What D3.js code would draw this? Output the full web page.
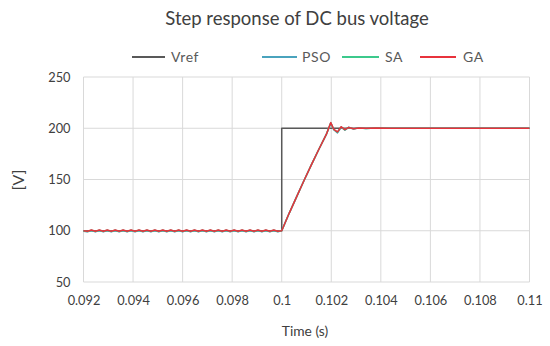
<!DOCTYPE html>
<html>
<head>
<meta charset="utf-8">
<script src="https://cdn.jsdelivr.net/npm/d3@7"></script>
<style>
  body { margin: 0; background: #fff; }
  svg text { font-family: Lato, "Open Sans", sans-serif; }
</style>
</head>
<body>
<svg id="chart" width="550" height="346"></svg>
<script>
// x ticks and y ticks
const xTicks = [0.092, 0.094, 0.096, 0.098, 0.1, 0.102, 0.104, 0.106, 0.108, 0.11];
const xTickLabels = ['0.092', '0.094', '0.096', '0.098', '0.1', '0.102', '0.104', '0.106', '0.108', '0.11'];
const yTicks = [50, 100, 150, 200, 250];

// reference voltage
const vrefTime = [0.092, 0.1, 0.1, 0.11];
const vrefValues = [100, 100, 200, 200];

// time points before the step (ripple)
const preTime = [
  0.09200, 0.09216, 0.09232, 0.09248, 0.09264, 0.09280, 0.09296, 0.09312, 0.09328, 0.09344,
  0.09360, 0.09376, 0.09392, 0.09408, 0.09424, 0.09440, 0.09456, 0.09472, 0.09488, 0.09504,
  0.09520, 0.09536, 0.09552, 0.09568, 0.09584, 0.09600, 0.09616, 0.09632, 0.09648, 0.09664,
  0.09680, 0.09696, 0.09712, 0.09728, 0.09744, 0.09760, 0.09776, 0.09792, 0.09808, 0.09824,
  0.09840, 0.09856, 0.09872, 0.09888, 0.09904, 0.09920, 0.09936, 0.09952, 0.09968, 0.09984,
  0.10000
];
// time points after the step
const postTime = [
  0.1003, 0.1006, 0.1009, 0.1012, 0.1015, 0.1018, 0.10198, 0.1021, 0.10225, 0.1024,
  0.10255, 0.1027, 0.1029, 0.1031, 0.1034, 0.1038, 0.1044, 0.105, 0.1058, 0.1066,
  0.1074, 0.1082, 0.109, 0.1098, 0.11
];

const psoPre = [
  99.6, 99.0, 100.2, 99.0, 100.2, 99.0, 100.2, 99.0, 100.2, 99.0,
  100.2, 99.0, 100.2, 99.0, 100.2, 99.0, 100.2, 99.0, 100.2, 99.0,
  100.2, 99.0, 100.2, 99.0, 100.2, 99.0, 100.2, 99.0, 100.2, 99.0,
  100.2, 99.0, 100.2, 99.0, 100.2, 99.0, 100.2, 99.0, 100.2, 99.0,
  100.2, 99.0, 100.2, 99.0, 100.2, 99.0, 100.2, 99.0, 100.2, 99.0,
  100
];
const psoPost = [
  117, 133, 149, 164.5, 179.5, 194, 205, 198.5, 195.5, 201,
  198.2, 200.9, 199.3, 200.4, 199.8, 200.2, 199.9, 200.1, 199.9, 200.1,
  199.9, 200.1, 199.9, 200.1, 200
];

const saPre = [
  99.8, 99.2, 100.4, 99.2, 100.4, 99.2, 100.4, 99.2, 100.4, 99.2,
  100.4, 99.2, 100.4, 99.2, 100.4, 99.2, 100.4, 99.2, 100.4, 99.2,
  100.4, 99.2, 100.4, 99.2, 100.4, 99.2, 100.4, 99.2, 100.4, 99.2,
  100.4, 99.2, 100.4, 99.2, 100.4, 99.2, 100.4, 99.2, 100.4, 99.2,
  100.4, 99.2, 100.4, 99.2, 100.4, 99.2, 100.4, 99.2, 100.4, 99.2,
  100
];
const saPost = [
  117, 133, 149, 164.5, 179.5, 194, 205.3, 198.8, 196, 201.3,
  198.4, 200.8, 199.4, 200.3, 199.8, 200.2, 199.9, 200.1, 199.9, 200.1,
  199.9, 200.1, 199.9, 200.1, 200
];

const gaPre = [
  100.1, 99.5, 100.8, 99.5, 100.8, 99.5, 100.8, 99.5, 100.8, 99.5,
  100.8, 99.5, 100.8, 99.5, 100.8, 99.5, 100.8, 99.5, 100.8, 99.5,
  100.8, 99.5, 100.8, 99.5, 100.8, 99.5, 100.8, 99.5, 100.8, 99.5,
  100.8, 99.5, 100.8, 99.5, 100.8, 99.5, 100.8, 99.5, 100.8, 99.5,
  100.8, 99.5, 100.8, 99.5, 100.8, 99.5, 100.8, 99.5, 100.8, 99.5,
  100
];
const gaPost = [
  117, 133, 149, 164.5, 179.5, 194, 205.5, 199, 196.5, 201.5,
  198.6, 200.8, 199.6, 200.3, 199.9, 200.2, 199.9, 200.1, 199.9, 200.1,
  199.9, 200.1, 199.9, 200.1, 200
];

const seriesNames = ['Vref', 'PSO', 'SA', 'GA'];
const seriesColors = ['#595959', '#4aa3bd', '#3cc98c', '#e8323c'];

const svg = d3.select('#chart');

const margin = { left: 83.5, right: 529.5, top: 77, bottom: 282 };

const x = d3.scaleLinear().domain([0.092, 0.11]).range([margin.left, margin.right]);
const y = d3.scaleLinear().domain([50, 250]).range([margin.bottom, margin.top]);

// Title
svg.append('text')
  .attr('x', 297)
  .attr('y', 25)
  .attr('text-anchor', 'middle')
  .attr('font-size', 18.5)
  .attr('fill', '#404040')
  .text('Step response of DC bus voltage');

// Gridlines
svg.append('g')
  .selectAll('line.vgrid')
  .data(xTicks)
  .enter()
  .append('line')
  .attr('x1', d => x(d))
  .attr('x2', d => x(d))
  .attr('y1', y(250))
  .attr('y2', y(50))
  .attr('stroke', '#d9d9d9')
  .attr('stroke-width', 1);

svg.append('g')
  .selectAll('line.hgrid')
  .data(yTicks)
  .enter()
  .append('line')
  .attr('x1', x(0.092))
  .attr('x2', x(0.11))
  .attr('y1', d => y(d))
  .attr('y2', d => y(d))
  .attr('stroke', '#d9d9d9')
  .attr('stroke-width', 1);

// Axes (labels only)
const xAxis = d3.axisBottom(x)
  .tickValues(xTicks)
  .tickFormat((d, i) => xTickLabels[i])
  .tickSize(0)
  .tickPadding(14);
svg.append('g')
  .attr('transform', `translate(0,${y(50)})`)
  .call(xAxis)
  .call(g => g.select('.domain').remove())
  .call(g => g.selectAll('text')
    .attr('font-size', 12.8)
    .attr('fill', '#404040')
    .style('font-family', 'Lato, "Open Sans", sans-serif'));

const yAxis = d3.axisLeft(y)
  .tickValues(yTicks)
  .tickSize(0)
  .tickPadding(13);
svg.append('g')
  .attr('transform', `translate(${x(0.092)},0)`)
  .call(yAxis)
  .call(g => g.select('.domain').remove())
  .call(g => g.selectAll('text')
    .attr('font-size', 12.8)
    .attr('fill', '#404040')
    .style('font-family', 'Lato, "Open Sans", sans-serif'));

// Axis titles
svg.append('text')
  .attr('x', 305)
  .attr('y', 336)
  .attr('text-anchor', 'middle')
  .attr('font-size', 13.8)
  .attr('fill', '#404040')
  .text('Time (s)');

svg.append('text')
  .attr('transform', 'translate(24,180) rotate(-90)')
  .attr('text-anchor', 'middle')
  .attr('font-size', 16)
  .attr('fill', '#404040')
  .text('[V]');

// Lines
const line = d3.line()
  .x(d => x(d[0]))
  .y(d => y(d[1]));

const seriesData = [
  d3.zip(vrefTime, vrefValues),
  d3.zip(preTime.concat(postTime), psoPre.concat(psoPost)),
  d3.zip(preTime.concat(postTime), saPre.concat(saPost)),
  d3.zip(preTime.concat(postTime), gaPre.concat(gaPost))
];

svg.append('g')
  .selectAll('path')
  .data(seriesData)
  .enter()
  .append('path')
  .attr('d', d => line(d))
  .attr('fill', 'none')
  .attr('stroke', (d, i) => seriesColors[i])
  .attr('stroke-width', 1.5)
  .attr('stroke-linejoin', 'round');

// Legend
const legendItems = [
  { x1: 132, x2: 165, tx: 171 },
  { x1: 262, x2: 297, tx: 302 },
  { x1: 342, x2: 379, tx: 385 },
  { x1: 420, x2: 456, tx: 463 }
];

const legend = svg.append('g');
legend.selectAll('line')
  .data(legendItems)
  .enter()
  .append('line')
  .attr('x1', d => d.x1)
  .attr('x2', d => d.x2)
  .attr('y1', 57)
  .attr('y2', 57)
  .attr('stroke', (d, i) => seriesColors[i])
  .attr('stroke-width', 2);

legend.selectAll('text')
  .data(legendItems)
  .enter()
  .append('text')
  .attr('x', d => d.tx)
  .attr('y', 62)
  .attr('font-size', 14)
  .attr('letter-spacing', 0.6)
  .attr('fill', '#595959')
  .text((d, i) => seriesNames[i]);
</script>
</body>
</html>
